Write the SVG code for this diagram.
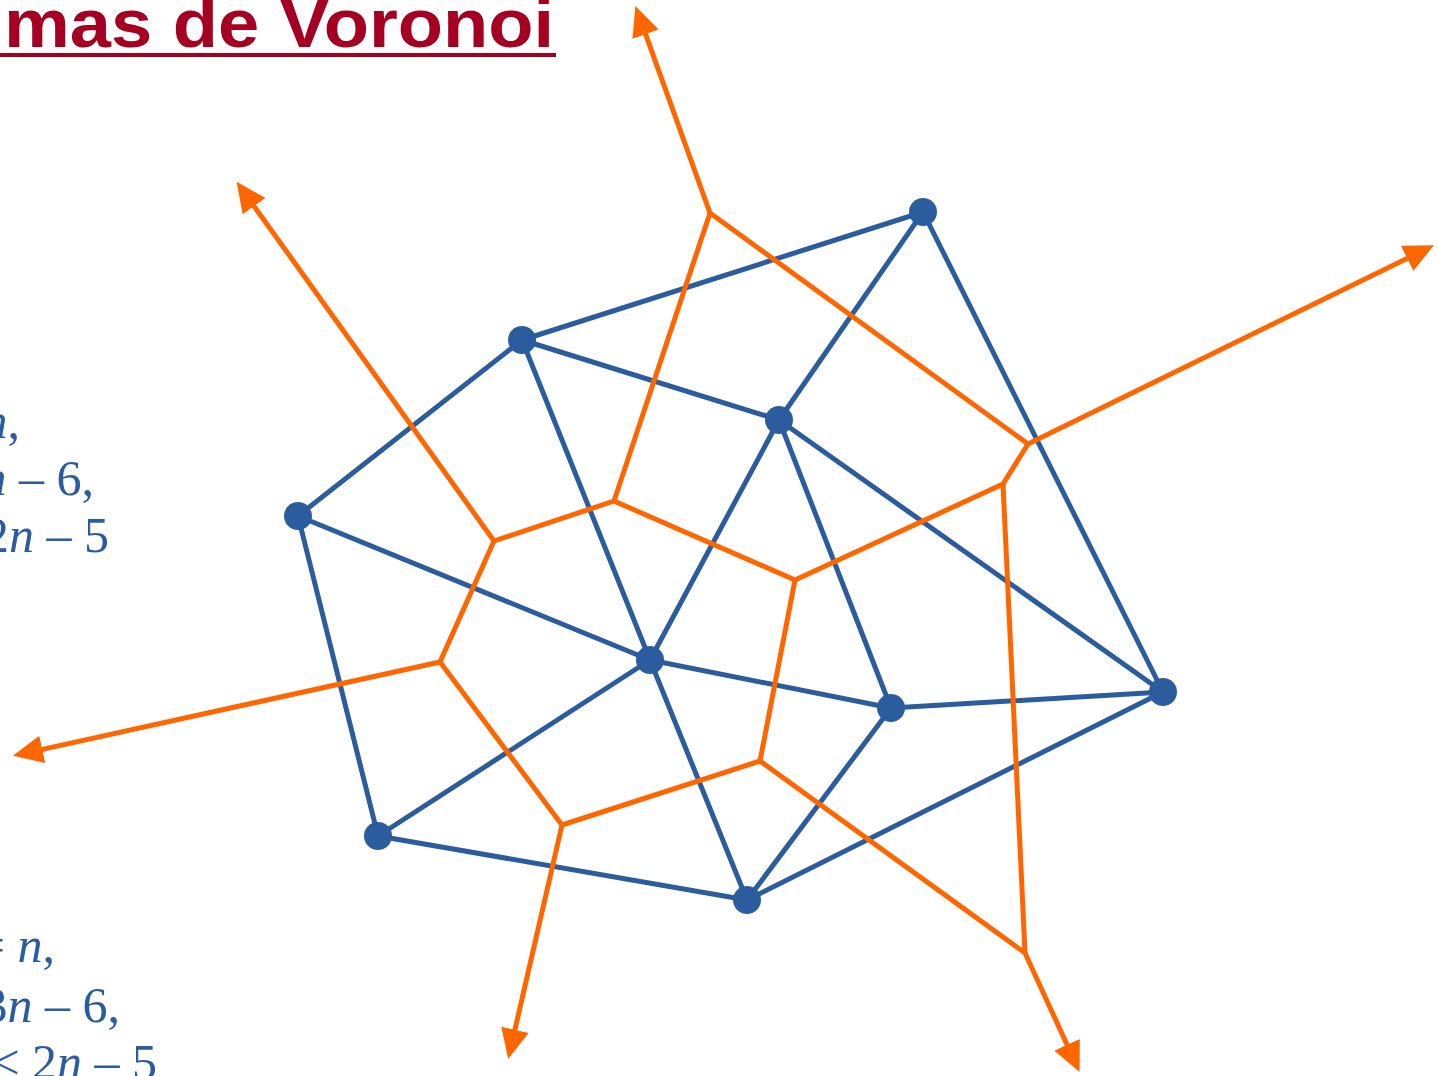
<svg xmlns="http://www.w3.org/2000/svg" width="1438" height="1076" viewBox="0 0 1438 1076">
<style>
.t{font-family:"Liberation Sans",Arial,sans-serif;font-weight:bold;font-size:68px;fill:#A50021}
.m{font-family:"Liberation Serif","Times New Roman",serif;font-size:50px;fill:#2B5C9E}
.i{font-style:italic}
.b{stroke:#2B5C9E;stroke-width:5;fill:none;stroke-linecap:round}
.o{stroke:#FF6600;stroke-width:5;fill:none;stroke-linejoin:miter}
.a{marker-end:url(#ah)}
.n{fill:#2B5C9E}
</style>
<defs>
<marker id="ah" markerUnits="userSpaceOnUse" markerWidth="30" markerHeight="28" viewBox="0 0 30 28" refX="1" refY="14" orient="auto">
<path d="M0,0 L30,14 L0,28 z" fill="#FF6600"/>
</marker>
</defs>
<g id="title">
<text class="t" x="4" y="47" textLength="550" lengthAdjust="spacingAndGlyphs">mas de Voronoi</text>
<rect x="0" y="53" width="556" height="4" fill="#A50021"/>
</g>
<g id="formulas1">
<text class="m" x="20" y="438" text-anchor="end"><tspan class="i">n</tspan>,</text>
<text class="m" x="94" y="495" text-anchor="end"><tspan class="i">n</tspan> – 6,</text>
<text class="m" x="109" y="552" text-anchor="end">2<tspan class="i">n</tspan> – 5</text>
</g>
<g id="formulas2">
<text class="m" x="55" y="962" text-anchor="end">= <tspan class="i">n</tspan>,</text>
<text class="m" x="120" y="1022" text-anchor="end">3<tspan class="i">n</tspan> – 6,</text>
<text class="m" x="157" y="1079" text-anchor="end">≤ 2<tspan class="i">n</tspan> – 5</text>
</g>
<g id="connectors">
<g id="delaunay">
<line class="b" x1="522" y1="340" x2="923" y2="212"/>
<line class="b" x1="923" y1="212" x2="779" y2="420"/>
<line class="b" x1="923" y1="212" x2="1163" y2="692"/>
<line class="b" x1="522" y1="340" x2="779" y2="420"/>
<line class="b" x1="522" y1="340" x2="298" y2="516"/>
<line class="b" x1="522" y1="340" x2="650" y2="660"/>
<line class="b" x1="779" y1="420" x2="650" y2="660"/>
<line class="b" x1="779" y1="420" x2="891" y2="708"/>
<line class="b" x1="779" y1="420" x2="1163" y2="692"/>
<line class="b" x1="298" y1="516" x2="650" y2="660"/>
<line class="b" x1="298" y1="516" x2="378" y2="836"/>
<line class="b" x1="650" y1="660" x2="891" y2="708"/>
<line class="b" x1="650" y1="660" x2="378" y2="836"/>
<line class="b" x1="650" y1="660" x2="747" y2="900"/>
<line class="b" x1="891" y1="708" x2="1163" y2="692"/>
<line class="b" x1="891" y1="708" x2="747" y2="900"/>
<line class="b" x1="1163" y1="692" x2="747" y2="900"/>
<line class="b" x1="378" y1="836" x2="747" y2="900"/>
</g>
<g id="voronoi">
<polyline class="o" points="710,213 1028,444 1003,484 795,580 614,501 710,213"/>
<polyline class="o" points="614,501 494,541 440,662 562,825 760,761 795,580"/>
<polyline class="o" points="760,761 1025,953 1003,484"/>
<line class="o a" x1="710" y1="213" x2="645.2" y2="33.2"/>
<line class="o a" x1="1028" y1="444" x2="1408" y2="258"/>
<line class="o a" x1="440" y1="662" x2="41.3" y2="749.6"/>
<line class="o a" x1="562" y1="825" x2="514.7" y2="1030.8"/>
<line class="o a" x1="1025" y1="953" x2="1067.5" y2="1045.7"/>
<line class="o a" x1="494" y1="541" x2="253.5" y2="205.4"/>
</g>
</g>
<g id="nodes">
<circle id="p1" class="n" cx="923" cy="212" r="14"/>
<circle id="p2" class="n" cx="522" cy="340" r="14"/>
<circle id="p3" class="n" cx="779" cy="420" r="14"/>
<circle id="p4" class="n" cx="298" cy="516" r="14"/>
<circle id="p5" class="n" cx="650" cy="660" r="14"/>
<circle id="p6" class="n" cx="891" cy="708" r="14"/>
<circle id="p7" class="n" cx="1163" cy="692" r="14"/>
<circle id="p8" class="n" cx="378" cy="836" r="14"/>
<circle id="p9" class="n" cx="747" cy="900" r="14"/>
</g>
</svg>
